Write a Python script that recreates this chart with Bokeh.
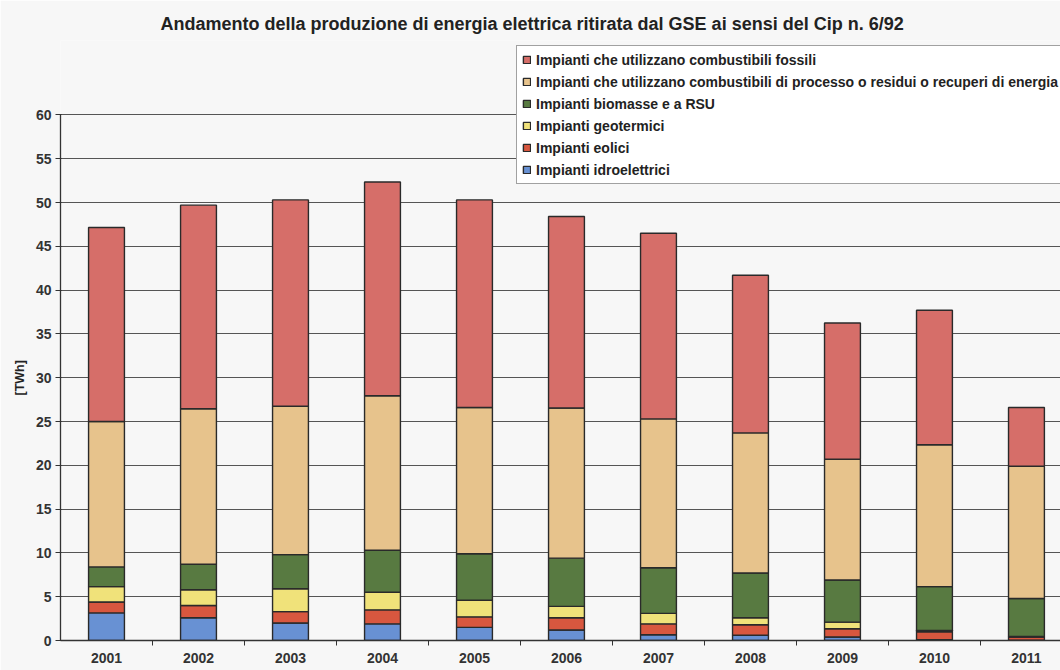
from bokeh.plotting import figure
from bokeh.models import (Range1d, FixedTicker, Legend, LegendItem, Title)
from bokeh.embed import file_html
from bokeh.resources import INLINE

# ---- data (TWh) ----
years = [2001, 2002, 2003, 2004, 2005, 2006, 2007, 2008, 2009, 2010, 2011]
idroelettrici = [3.15, 2.6, 2.0, 1.9, 1.5, 1.2, 0.65, 0.6, 0.4, 0.1, 0.03]
eolici = [1.25, 1.4, 1.3, 1.6, 1.2, 1.4, 1.25, 1.2, 0.95, 0.9, 0.37]
geotermici = [1.75, 1.8, 2.6, 2.0, 1.9, 1.3, 1.2, 0.8, 0.75, 0.15, 0.05]
biomasse = [2.25, 2.9, 3.9, 4.8, 5.3, 5.5, 5.2, 5.1, 4.8, 5.0, 4.35]
processo = [16.6, 17.75, 16.95, 17.65, 16.7, 17.15, 17.0, 16.0, 13.8, 16.2, 15.1]
fossili = [22.15, 23.25, 23.55, 24.4, 23.7, 21.85, 21.2, 18.0, 15.55, 15.35, 6.7]

series_keys = ["idro", "eol", "geo", "bio", "proc", "foss"]
series_labels = [
    "Impianti idroelettrici",
    "Impianti eolici",
    "Impianti geotermici",
    "Impianti biomasse e a RSU",
    "Impianti che utilizzano combustibili di processo o residui o recuperi di energia",
    "Impianti che utilizzano combustibili fossili",
]
series_colors = ["#6891D3", "#D8573F", "#F0E27A", "#587A41", "#E7C38C", "#D66E69"]

title_text = "Andamento della produzione di energia elettrica ritirata dal GSE ai sensi del Cip n. 6/92"
y_label = "[TWh]"
y_ticks = list(range(0, 65, 5))

data = dict(x=years, idro=idroelettrici, eol=eolici, geo=geotermici,
            bio=biomasse, proc=processo, foss=fossili)

FONT = "Liberation Sans"
BG = "#f7f7f7"

p = figure(width=1060, height=670, output_backend="svg", toolbar_location=None,
           x_range=Range1d(2000.5, 2011.37), y_range=Range1d(0, 68.5),
           min_border_left=60, min_border_right=0, min_border_top=40,
           min_border_bottom=30, title=title_text)

p.background_fill_color = BG
p.border_fill_color = BG
p.outline_line_color = None

p.title.text_font = FONT
p.title.text_font_size = "18px"
p.title.text_font_style = "bold"
p.title.text_color = "#222222"
p.title.align = "left"
p.title.offset = 100
p.title.standoff = 13

renderers = p.vbar_stack(series_keys, x="x", width=0.39, source=data,
                         color=series_colors, line_color="#2a2a2a", line_width=1.4)

# y axis
p.yaxis.ticker = FixedTicker(ticks=y_ticks)
p.yaxis.bounds = (0, 60)
p.yaxis.major_label_text_font = FONT
p.yaxis.major_label_text_font_style = "bold"
p.yaxis.major_label_text_font_size = "14px"
p.yaxis.major_label_text_color = "#333333"
p.yaxis.major_label_standoff = 4
p.yaxis.major_tick_out = 5
p.yaxis.major_tick_in = 1
p.yaxis.minor_tick_line_color = None
p.yaxis.axis_line_color = "#333333"
p.yaxis.major_tick_line_color = "#333333"
p.yaxis.axis_line_width = 1.3

# y axis label as a side title, centred on the 0-60 span
ytitle = Title(text=y_label, align="left", offset=245, standoff=11,
               text_font=FONT, text_font_style="bold", text_font_size="12.5px",
               text_color="#222222")
p.add_layout(ytitle, "left")

# x axis
mids = [y + 0.5 for y in years]
p.xaxis.ticker = FixedTicker(ticks=years, minor_ticks=mids)
p.xaxis.major_tick_out = 0
p.xaxis.major_tick_in = 0
p.xaxis.minor_tick_out = 5
p.xaxis.minor_tick_in = 0
p.xaxis.minor_tick_line_color = "#333333"
p.xaxis.axis_line_color = "#333333"
p.xaxis.axis_line_width = 1.3
p.xaxis.major_label_text_font = FONT
p.xaxis.major_label_text_font_style = "bold"
p.xaxis.major_label_text_font_size = "14px"
p.xaxis.major_label_text_color = "#333333"
p.xaxis.major_label_standoff = 7

# grid
p.xgrid.grid_line_color = None
p.ygrid.ticker = FixedTicker(ticks=y_ticks)
p.ygrid.bounds = (0, 60)
p.ygrid.grid_line_color = "#555555"
p.ygrid.grid_line_width = 1.2

# legend (fossili first)
items = [LegendItem(label=lab, renderers=[r]) for lab, r in zip(series_labels, renderers)]
items = items[::-1]
legend = Legend(items=items, location=(456, 456), orientation="vertical",
                label_text_font=FONT, label_text_font_style="bold",
                label_text_font_size="14px", label_text_color="#222222",
                glyph_width=9, glyph_height=9, label_height=17, label_standoff=5,
                label_width=560, spacing=5, padding=5, margin=0,
                border_line_color="#444444", border_line_width=1.2,
                background_fill_color="white", background_fill_alpha=1.0)
p.add_layout(legend, "center")

open("out.html", "w").write(file_html(p, INLINE))
